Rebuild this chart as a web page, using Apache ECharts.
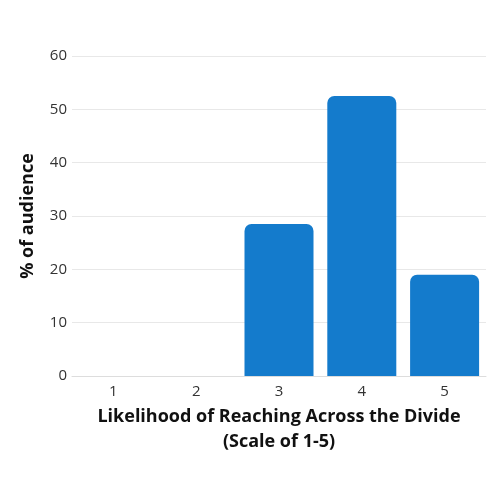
<!DOCTYPE html>
<html>
<head>
<meta charset="utf-8">
<script src="https://cdn.jsdelivr.net/npm/echarts@6/dist/echarts.min.js"></script>
<style>html,body{margin:0;padding:0;background:#fff}#c{width:500px;height:500px}</style>
</head>
<body>
<div id="c"></div>
<script>
const categories = ['1', '2', '3', '4', '5'];
const values = [0, 0, 28.5, 52.5, 19];
const yTicks = { min: 0, max: 60, interval: 10 };
const xTitle = 'Likelihood of Reaching Across the Divide\n(Scale of 1-5)';
const yTitle = '% of audience';

const chart = echarts.init(document.getElementById('c'));
chart.setOption({
  animation: false,
  textStyle: { fontFamily: 'Open Sans' },
  grid: { left: 72, right: 14, top: 56, bottom: 124 },
  xAxis: {
    type: 'category',
    data: categories,
    axisTick: { show: false },
    axisLine: { lineStyle: { color: '#dddddd', width: 1 } },
    axisLabel: { color: '#333333', fontSize: 15, margin: 8, fontFamily: 'Open Sans' },
    name: xTitle,
    nameLocation: 'middle',
    nameGap: 27,
    nameTextStyle: { fontSize: 18, fontWeight: 'bold', color: '#111111', lineHeight: 25, fontFamily: 'Open Sans' }
  },
  yAxis: {
    type: 'value',
    min: yTicks.min, max: yTicks.max, interval: yTicks.interval,
    axisLine: { show: false },
    axisTick: { show: false },
    splitLine: { lineStyle: { color: '#e8e8e8' } },
    axisLabel: { color: '#333333', fontSize: 15, margin: 5, fontFamily: 'Open Sans' },
    name: yTitle,
    nameLocation: 'middle',
    nameGap: 35,
    nameTextStyle: { fontSize: 18, fontWeight: 'bold', color: '#111111', fontFamily: 'Open Sans' }
  },
  series: [{
    type: 'bar',
    data: values,
    barWidth: 69,
    itemStyle: { color: '#147bcc', borderRadius: [7, 7, 0, 0] }
  }]
});
</script>
</body>
</html>
